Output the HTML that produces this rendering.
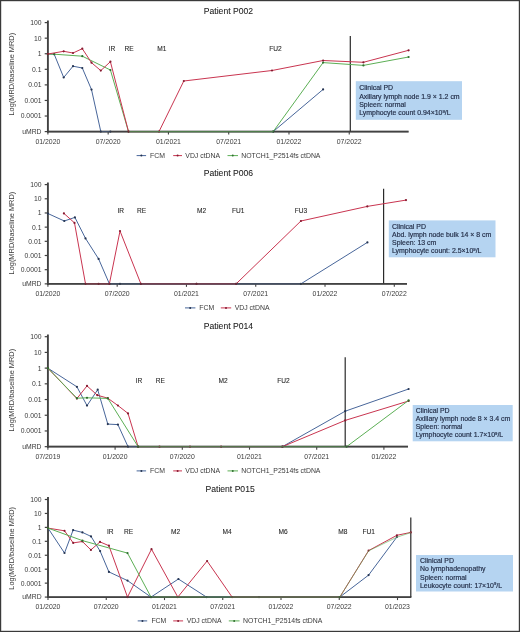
<!DOCTYPE html>
<html><head><meta charset="utf-8"><style>
html,body{margin:0;padding:0;background:#fff;}
body{width:520px;height:632px;overflow:hidden;position:relative;}
svg{position:absolute;left:0;top:0;display:block;will-change:transform;}
text{font-family:"Liberation Sans",sans-serif;}
</style></head><body>
<svg width="520" height="632" viewBox="0 0 520 632" font-family="Liberation Sans, sans-serif">
<rect x="0" y="0" width="520" height="632" fill="#fff"/>
<text x="203.80" y="14.30" font-size="8.6" text-anchor="start" fill="#222" stroke="#222" stroke-width="0.07">Patient P002</text>
<text transform="translate(14.1,74.20) rotate(-90)" font-size="7.42" text-anchor="middle" fill="#3a3a3a">Log(MRD/baseline MRD)</text>
<line x1="47.90" y1="20.50" x2="47.90" y2="132.59" stroke="#424242" stroke-width="1.9"/>
<line x1="44.70" y1="22.60" x2="47.90" y2="22.60" stroke="#424242" stroke-width="1.2"/>
<text x="41.50" y="25.00" font-size="6.8" text-anchor="end" fill="#3a3a3a" >100</text>
<line x1="44.70" y1="38.17" x2="47.90" y2="38.17" stroke="#424242" stroke-width="1.2"/>
<text x="41.50" y="40.57" font-size="6.8" text-anchor="end" fill="#3a3a3a" >10</text>
<line x1="44.70" y1="53.74" x2="47.90" y2="53.74" stroke="#424242" stroke-width="1.2"/>
<text x="41.50" y="56.14" font-size="6.8" text-anchor="end" fill="#3a3a3a" >1</text>
<line x1="44.70" y1="69.31" x2="47.90" y2="69.31" stroke="#424242" stroke-width="1.2"/>
<text x="41.50" y="71.71" font-size="6.8" text-anchor="end" fill="#3a3a3a" >0.1</text>
<line x1="44.70" y1="84.88" x2="47.90" y2="84.88" stroke="#424242" stroke-width="1.2"/>
<text x="41.50" y="87.28" font-size="6.8" text-anchor="end" fill="#3a3a3a" >0.01</text>
<line x1="44.70" y1="100.45" x2="47.90" y2="100.45" stroke="#424242" stroke-width="1.2"/>
<text x="41.50" y="102.85" font-size="6.8" text-anchor="end" fill="#3a3a3a" >0.001</text>
<line x1="44.70" y1="116.02" x2="47.90" y2="116.02" stroke="#424242" stroke-width="1.2"/>
<text x="41.50" y="118.42" font-size="6.8" text-anchor="end" fill="#3a3a3a" >0.0001</text>
<line x1="44.70" y1="131.59" x2="47.90" y2="131.59" stroke="#424242" stroke-width="1.2"/>
<text x="41.50" y="133.99" font-size="6.8" text-anchor="end" fill="#3a3a3a" >uMRD</text>
<line x1="47.00" y1="131.59" x2="408.60" y2="131.59" stroke="#424242" stroke-width="1.9"/>
<line x1="47.90" y1="131.59" x2="47.90" y2="134.59" stroke="#424242" stroke-width="1.1"/>
<text x="47.90" y="143.89" font-size="6.9" text-anchor="middle" fill="#3a3a3a" >01/2020</text>
<line x1="108.17" y1="131.59" x2="108.17" y2="134.59" stroke="#424242" stroke-width="1.1"/>
<text x="108.17" y="143.89" font-size="6.9" text-anchor="middle" fill="#3a3a3a" >07/2020</text>
<line x1="168.44" y1="131.59" x2="168.44" y2="134.59" stroke="#424242" stroke-width="1.1"/>
<text x="168.44" y="143.89" font-size="6.9" text-anchor="middle" fill="#3a3a3a" >01/2021</text>
<line x1="228.71" y1="131.59" x2="228.71" y2="134.59" stroke="#424242" stroke-width="1.1"/>
<text x="228.71" y="143.89" font-size="6.9" text-anchor="middle" fill="#3a3a3a" >07/2021</text>
<line x1="288.98" y1="131.59" x2="288.98" y2="134.59" stroke="#424242" stroke-width="1.1"/>
<text x="288.98" y="143.89" font-size="6.9" text-anchor="middle" fill="#3a3a3a" >01/2022</text>
<line x1="349.25" y1="131.59" x2="349.25" y2="134.59" stroke="#424242" stroke-width="1.1"/>
<text x="349.25" y="143.89" font-size="6.9" text-anchor="middle" fill="#3a3a3a" >07/2022</text>
<text x="112.00" y="51.00" font-size="6.6" text-anchor="middle" fill="#2a2a2a" stroke="#2a2a2a" stroke-width="0.1">IR</text>
<text x="129.20" y="51.00" font-size="6.6" text-anchor="middle" fill="#2a2a2a" stroke="#2a2a2a" stroke-width="0.1">RE</text>
<text x="161.80" y="51.00" font-size="6.6" text-anchor="middle" fill="#2a2a2a" stroke="#2a2a2a" stroke-width="0.1">M1</text>
<text x="275.50" y="51.00" font-size="6.6" text-anchor="middle" fill="#2a2a2a" stroke="#2a2a2a" stroke-width="0.1">FU2</text>
<line x1="350.30" y1="36.00" x2="350.30" y2="131.59" stroke="#2a2a2a" stroke-width="1.2"/>
<polyline points="47.90,54.00 54.20,54.20 63.70,77.50 73.00,66.20 82.30,68.00 91.50,89.60 100.80,131.59 110.40,131.59" fill="none" stroke="#48669a" stroke-width="1" stroke-linejoin="round" stroke-opacity="1"/>
<circle cx="47.90" cy="54.00" r="1.1" fill="#243350"/>
<circle cx="54.20" cy="54.20" r="1.1" fill="#243350"/>
<circle cx="63.70" cy="77.50" r="1.1" fill="#243350"/>
<circle cx="73.00" cy="66.20" r="1.1" fill="#243350"/>
<circle cx="82.30" cy="68.00" r="1.1" fill="#243350"/>
<circle cx="91.50" cy="89.60" r="1.1" fill="#243350"/>
<circle cx="100.80" cy="131.59" r="1.1" fill="#243350"/>
<circle cx="110.40" cy="131.59" r="1.1" fill="#243350"/>
<polyline points="273.20,131.59 323.10,89.40" fill="none" stroke="#48669a" stroke-width="1" stroke-linejoin="round" stroke-opacity="1"/>
<circle cx="273.20" cy="131.59" r="1.1" fill="#243350"/>
<circle cx="323.10" cy="89.40" r="1.1" fill="#243350"/>
<polyline points="47.90,54.00 54.20,54.20 82.30,56.20 110.40,70.00 128.50,131.59 273.20,131.59 323.10,62.60 363.40,65.40 408.60,57.00" fill="none" stroke="#5caf55" stroke-width="1" stroke-linejoin="round" stroke-opacity="1"/>
<circle cx="47.90" cy="54.00" r="1.1" fill="#2f6f2f"/>
<circle cx="54.20" cy="54.20" r="1.1" fill="#2f6f2f"/>
<circle cx="82.30" cy="56.20" r="1.1" fill="#2f6f2f"/>
<circle cx="110.40" cy="70.00" r="1.1" fill="#2f6f2f"/>
<circle cx="128.50" cy="131.59" r="1.1" fill="#2f6f2f"/>
<circle cx="273.20" cy="131.59" r="1.1" fill="#2f6f2f"/>
<circle cx="323.10" cy="62.60" r="1.1" fill="#2f6f2f"/>
<circle cx="363.40" cy="65.40" r="1.1" fill="#2f6f2f"/>
<circle cx="408.60" cy="57.00" r="1.1" fill="#2f6f2f"/>
<polyline points="47.90,54.00 63.70,51.30 73.00,53.00 82.30,48.70 91.50,62.70 100.80,70.60 110.40,61.70 128.50,131.59 159.00,131.59 183.80,81.00 272.00,70.50 323.10,60.50 363.40,62.30 408.60,50.30" fill="none" stroke="#c93550" stroke-width="1" stroke-linejoin="round" stroke-opacity="1"/>
<circle cx="47.90" cy="54.00" r="1.1" fill="#861a30"/>
<circle cx="63.70" cy="51.30" r="1.1" fill="#861a30"/>
<circle cx="73.00" cy="53.00" r="1.1" fill="#861a30"/>
<circle cx="82.30" cy="48.70" r="1.1" fill="#861a30"/>
<circle cx="91.50" cy="62.70" r="1.1" fill="#861a30"/>
<circle cx="100.80" cy="70.60" r="1.1" fill="#861a30"/>
<circle cx="110.40" cy="61.70" r="1.1" fill="#861a30"/>
<circle cx="128.50" cy="131.59" r="1.1" fill="#861a30"/>
<circle cx="159.00" cy="131.59" r="1.1" fill="#861a30"/>
<circle cx="183.80" cy="81.00" r="1.1" fill="#861a30"/>
<circle cx="272.00" cy="70.50" r="1.1" fill="#861a30"/>
<circle cx="323.10" cy="60.50" r="1.1" fill="#861a30"/>
<circle cx="363.40" cy="62.30" r="1.1" fill="#861a30"/>
<circle cx="408.60" cy="50.30" r="1.1" fill="#861a30"/>
<polyline points="129.50,131.59 273.20,131.59" fill="none" stroke="#5caf55" stroke-width="1" stroke-linejoin="round" stroke-opacity="0.999"/>
<line x1="47.00" y1="131.59" x2="408.60" y2="131.59" stroke="#424242" stroke-width="1.9" stroke-opacity="0.45"/>
<rect x="355.8" y="81.2" width="106.19999999999999" height="38.599999999999994" fill="#b5d4f1"/>
<text x="359.20" y="90.10" font-size="6.95" text-anchor="start" fill="#25304a" stroke="#25304a" stroke-width="0.18">Clinical PD</text>
<text x="359.20" y="98.70" font-size="6.95" text-anchor="start" fill="#25304a" stroke="#25304a" stroke-width="0.18">Axillary lymph node 1.9 × 1.2 cm</text>
<text x="359.20" y="107.00" font-size="6.95" text-anchor="start" fill="#25304a" stroke="#25304a" stroke-width="0.18">Spleen: normal</text>
<text x="359.20" y="115.20" font-size="6.95" text-anchor="start" fill="#25304a" stroke="#25304a" stroke-width="0.18">Lymphocyte count 0.94×10<tspan font-size="4.2" dy="-2.6">9</tspan><tspan dy="2.6">/L</tspan></text>
<line x1="136.60" y1="155.60" x2="146.10" y2="155.60" stroke="#48669a" stroke-width="1"/>
<circle cx="141.35" cy="155.60" r="1.0" fill="#243350"/>
<text x="150.00" y="158.05" font-size="6.9" text-anchor="start" fill="#3a3a3a" >FCM</text>
<line x1="173.20" y1="155.60" x2="182.00" y2="155.60" stroke="#c93550" stroke-width="1"/>
<circle cx="177.60" cy="155.60" r="1.0" fill="#861a30"/>
<text x="185.30" y="158.05" font-size="6.9" text-anchor="start" fill="#3a3a3a" >VDJ ctDNA</text>
<line x1="227.50" y1="155.60" x2="238.00" y2="155.60" stroke="#5caf55" stroke-width="1"/>
<circle cx="232.75" cy="155.60" r="1.0" fill="#2f6f2f"/>
<text x="241.20" y="158.05" font-size="6.9" text-anchor="start" fill="#3a3a3a" >NOTCH1_P2514fs ctDNA</text>
<text x="203.80" y="176.40" font-size="8.6" text-anchor="start" fill="#222" stroke="#222" stroke-width="0.07">Patient P006</text>
<text transform="translate(14.1,233.10) rotate(-90)" font-size="7.42" text-anchor="middle" fill="#3a3a3a">Log(MRD/baseline MRD)</text>
<line x1="47.90" y1="182.50" x2="47.90" y2="284.86" stroke="#424242" stroke-width="1.9"/>
<line x1="44.70" y1="184.60" x2="47.90" y2="184.60" stroke="#424242" stroke-width="1.2"/>
<text x="41.50" y="187.00" font-size="6.8" text-anchor="end" fill="#3a3a3a" >100</text>
<line x1="44.70" y1="198.78" x2="47.90" y2="198.78" stroke="#424242" stroke-width="1.2"/>
<text x="41.50" y="201.18" font-size="6.8" text-anchor="end" fill="#3a3a3a" >10</text>
<line x1="44.70" y1="212.96" x2="47.90" y2="212.96" stroke="#424242" stroke-width="1.2"/>
<text x="41.50" y="215.36" font-size="6.8" text-anchor="end" fill="#3a3a3a" >1</text>
<line x1="44.70" y1="227.14" x2="47.90" y2="227.14" stroke="#424242" stroke-width="1.2"/>
<text x="41.50" y="229.54" font-size="6.8" text-anchor="end" fill="#3a3a3a" >0.1</text>
<line x1="44.70" y1="241.32" x2="47.90" y2="241.32" stroke="#424242" stroke-width="1.2"/>
<text x="41.50" y="243.72" font-size="6.8" text-anchor="end" fill="#3a3a3a" >0.01</text>
<line x1="44.70" y1="255.50" x2="47.90" y2="255.50" stroke="#424242" stroke-width="1.2"/>
<text x="41.50" y="257.90" font-size="6.8" text-anchor="end" fill="#3a3a3a" >0.001</text>
<line x1="44.70" y1="269.68" x2="47.90" y2="269.68" stroke="#424242" stroke-width="1.2"/>
<text x="41.50" y="272.08" font-size="6.8" text-anchor="end" fill="#3a3a3a" >0.0001</text>
<line x1="44.70" y1="283.86" x2="47.90" y2="283.86" stroke="#424242" stroke-width="1.2"/>
<text x="41.50" y="286.26" font-size="6.8" text-anchor="end" fill="#3a3a3a" >uMRD</text>
<line x1="47.00" y1="283.86" x2="407.00" y2="283.86" stroke="#424242" stroke-width="1.9"/>
<line x1="47.90" y1="283.86" x2="47.90" y2="286.86" stroke="#424242" stroke-width="1.1"/>
<text x="47.90" y="296.16" font-size="6.9" text-anchor="middle" fill="#3a3a3a" >01/2020</text>
<line x1="117.18" y1="283.86" x2="117.18" y2="286.86" stroke="#424242" stroke-width="1.1"/>
<text x="117.18" y="296.16" font-size="6.9" text-anchor="middle" fill="#3a3a3a" >07/2020</text>
<line x1="186.46" y1="283.86" x2="186.46" y2="286.86" stroke="#424242" stroke-width="1.1"/>
<text x="186.46" y="296.16" font-size="6.9" text-anchor="middle" fill="#3a3a3a" >01/2021</text>
<line x1="255.74" y1="283.86" x2="255.74" y2="286.86" stroke="#424242" stroke-width="1.1"/>
<text x="255.74" y="296.16" font-size="6.9" text-anchor="middle" fill="#3a3a3a" >07/2021</text>
<line x1="325.02" y1="283.86" x2="325.02" y2="286.86" stroke="#424242" stroke-width="1.1"/>
<text x="325.02" y="296.16" font-size="6.9" text-anchor="middle" fill="#3a3a3a" >01/2022</text>
<line x1="394.30" y1="283.86" x2="394.30" y2="286.86" stroke="#424242" stroke-width="1.1"/>
<text x="394.30" y="296.16" font-size="6.9" text-anchor="middle" fill="#3a3a3a" >07/2022</text>
<text x="120.70" y="213.00" font-size="6.6" text-anchor="middle" fill="#2a2a2a" stroke="#2a2a2a" stroke-width="0.1">IR</text>
<text x="141.70" y="213.00" font-size="6.6" text-anchor="middle" fill="#2a2a2a" stroke="#2a2a2a" stroke-width="0.1">RE</text>
<text x="201.50" y="213.00" font-size="6.6" text-anchor="middle" fill="#2a2a2a" stroke="#2a2a2a" stroke-width="0.1">M2</text>
<text x="238.20" y="213.00" font-size="6.6" text-anchor="middle" fill="#2a2a2a" stroke="#2a2a2a" stroke-width="0.1">FU1</text>
<text x="301.00" y="213.00" font-size="6.6" text-anchor="middle" fill="#2a2a2a" stroke="#2a2a2a" stroke-width="0.1">FU3</text>
<line x1="383.60" y1="188.70" x2="383.60" y2="283.86" stroke="#2a2a2a" stroke-width="1.2"/>
<polyline points="47.90,213.50 64.30,221.00 74.90,217.40 85.50,238.40 98.60,258.90 109.40,283.86 120.00,283.86 140.90,283.86 196.50,283.86 236.10,283.86 300.90,283.86 367.40,242.40" fill="none" stroke="#48669a" stroke-width="1" stroke-linejoin="round" stroke-opacity="1"/>
<circle cx="47.90" cy="213.50" r="1.1" fill="#243350"/>
<circle cx="64.30" cy="221.00" r="1.1" fill="#243350"/>
<circle cx="74.90" cy="217.40" r="1.1" fill="#243350"/>
<circle cx="85.50" cy="238.40" r="1.1" fill="#243350"/>
<circle cx="98.60" cy="258.90" r="1.1" fill="#243350"/>
<circle cx="109.40" cy="283.86" r="1.1" fill="#243350"/>
<circle cx="120.00" cy="283.86" r="1.1" fill="#243350"/>
<circle cx="140.90" cy="283.86" r="1.1" fill="#243350"/>
<circle cx="196.50" cy="283.86" r="1.1" fill="#243350"/>
<circle cx="236.10" cy="283.86" r="1.1" fill="#243350"/>
<circle cx="300.90" cy="283.86" r="1.1" fill="#243350"/>
<circle cx="367.40" cy="242.40" r="1.1" fill="#243350"/>
<polyline points="63.90,213.40 74.50,222.90 85.50,283.86 98.60,283.86 109.40,283.86 120.00,231.00 140.90,283.86 196.50,283.86 236.10,283.86 300.90,221.00 367.30,206.40 406.00,200.10" fill="none" stroke="#c93550" stroke-width="1" stroke-linejoin="round" stroke-opacity="1"/>
<circle cx="63.90" cy="213.40" r="1.1" fill="#861a30"/>
<circle cx="74.50" cy="222.90" r="1.1" fill="#861a30"/>
<circle cx="85.50" cy="283.86" r="1.1" fill="#861a30"/>
<circle cx="98.60" cy="283.86" r="1.1" fill="#861a30"/>
<circle cx="109.40" cy="283.86" r="1.1" fill="#861a30"/>
<circle cx="120.00" cy="231.00" r="1.1" fill="#861a30"/>
<circle cx="140.90" cy="283.86" r="1.1" fill="#861a30"/>
<circle cx="196.50" cy="283.86" r="1.1" fill="#861a30"/>
<circle cx="236.10" cy="283.86" r="1.1" fill="#861a30"/>
<circle cx="300.90" cy="221.00" r="1.1" fill="#861a30"/>
<circle cx="367.30" cy="206.40" r="1.1" fill="#861a30"/>
<circle cx="406.00" cy="200.10" r="1.1" fill="#861a30"/>
<line x1="47.00" y1="283.86" x2="407.00" y2="283.86" stroke="#424242" stroke-width="1.9" stroke-opacity="0.45"/>
<rect x="388.8" y="220.4" width="106.69999999999999" height="36.900000000000006" fill="#b5d4f1"/>
<text x="392.00" y="228.60" font-size="6.95" text-anchor="start" fill="#25304a" stroke="#25304a" stroke-width="0.18">Clinical PD</text>
<text x="392.00" y="236.50" font-size="6.95" text-anchor="start" fill="#25304a" stroke="#25304a" stroke-width="0.18">Abd. lymph node bulk 14 × 8 cm</text>
<text x="392.00" y="244.80" font-size="6.95" text-anchor="start" fill="#25304a" stroke="#25304a" stroke-width="0.18">Spleen: 13 cm</text>
<text x="392.00" y="253.30" font-size="6.95" text-anchor="start" fill="#25304a" stroke="#25304a" stroke-width="0.18">Lymphocyte count: 2.5×10<tspan font-size="4.2" dy="-2.6">9</tspan><tspan dy="2.6">/L</tspan></text>
<line x1="185.00" y1="307.90" x2="195.40" y2="307.90" stroke="#48669a" stroke-width="1"/>
<circle cx="190.20" cy="307.90" r="1.0" fill="#243350"/>
<text x="199.30" y="310.35" font-size="6.9" text-anchor="start" fill="#3a3a3a" >FCM</text>
<line x1="220.80" y1="307.90" x2="231.20" y2="307.90" stroke="#c93550" stroke-width="1"/>
<circle cx="226.00" cy="307.90" r="1.0" fill="#861a30"/>
<text x="234.70" y="310.35" font-size="6.9" text-anchor="start" fill="#3a3a3a" >VDJ ctDNA</text>
<text x="203.80" y="328.60" font-size="8.6" text-anchor="start" fill="#222" stroke="#222" stroke-width="0.07">Patient P014</text>
<text transform="translate(14.1,390.20) rotate(-90)" font-size="7.42" text-anchor="middle" fill="#3a3a3a">Log(MRD/baseline MRD)</text>
<line x1="47.90" y1="334.50" x2="47.90" y2="447.67" stroke="#424242" stroke-width="1.9"/>
<line x1="44.70" y1="336.70" x2="47.90" y2="336.70" stroke="#424242" stroke-width="1.2"/>
<text x="41.50" y="339.10" font-size="6.8" text-anchor="end" fill="#3a3a3a" >100</text>
<line x1="44.70" y1="352.41" x2="47.90" y2="352.41" stroke="#424242" stroke-width="1.2"/>
<text x="41.50" y="354.81" font-size="6.8" text-anchor="end" fill="#3a3a3a" >10</text>
<line x1="44.70" y1="368.12" x2="47.90" y2="368.12" stroke="#424242" stroke-width="1.2"/>
<text x="41.50" y="370.52" font-size="6.8" text-anchor="end" fill="#3a3a3a" >1</text>
<line x1="44.70" y1="383.83" x2="47.90" y2="383.83" stroke="#424242" stroke-width="1.2"/>
<text x="41.50" y="386.23" font-size="6.8" text-anchor="end" fill="#3a3a3a" >0.1</text>
<line x1="44.70" y1="399.54" x2="47.90" y2="399.54" stroke="#424242" stroke-width="1.2"/>
<text x="41.50" y="401.94" font-size="6.8" text-anchor="end" fill="#3a3a3a" >0.01</text>
<line x1="44.70" y1="415.25" x2="47.90" y2="415.25" stroke="#424242" stroke-width="1.2"/>
<text x="41.50" y="417.65" font-size="6.8" text-anchor="end" fill="#3a3a3a" >0.001</text>
<line x1="44.70" y1="430.96" x2="47.90" y2="430.96" stroke="#424242" stroke-width="1.2"/>
<text x="41.50" y="433.36" font-size="6.8" text-anchor="end" fill="#3a3a3a" >0.0001</text>
<line x1="44.70" y1="446.67" x2="47.90" y2="446.67" stroke="#424242" stroke-width="1.2"/>
<text x="41.50" y="449.07" font-size="6.8" text-anchor="end" fill="#3a3a3a" >uMRD</text>
<line x1="47.00" y1="446.67" x2="408.00" y2="446.67" stroke="#424242" stroke-width="1.9"/>
<line x1="47.90" y1="446.67" x2="47.90" y2="449.67" stroke="#424242" stroke-width="1.1"/>
<text x="47.90" y="458.97" font-size="6.9" text-anchor="middle" fill="#3a3a3a" >07/2019</text>
<line x1="115.10" y1="446.67" x2="115.10" y2="449.67" stroke="#424242" stroke-width="1.1"/>
<text x="115.10" y="458.97" font-size="6.9" text-anchor="middle" fill="#3a3a3a" >01/2020</text>
<line x1="182.30" y1="446.67" x2="182.30" y2="449.67" stroke="#424242" stroke-width="1.1"/>
<text x="182.30" y="458.97" font-size="6.9" text-anchor="middle" fill="#3a3a3a" >07/2020</text>
<line x1="249.50" y1="446.67" x2="249.50" y2="449.67" stroke="#424242" stroke-width="1.1"/>
<text x="249.50" y="458.97" font-size="6.9" text-anchor="middle" fill="#3a3a3a" >01/2021</text>
<line x1="316.70" y1="446.67" x2="316.70" y2="449.67" stroke="#424242" stroke-width="1.1"/>
<text x="316.70" y="458.97" font-size="6.9" text-anchor="middle" fill="#3a3a3a" >07/2021</text>
<line x1="383.90" y1="446.67" x2="383.90" y2="449.67" stroke="#424242" stroke-width="1.1"/>
<text x="383.90" y="458.97" font-size="6.9" text-anchor="middle" fill="#3a3a3a" >01/2022</text>
<text x="139.00" y="383.00" font-size="6.6" text-anchor="middle" fill="#2a2a2a" stroke="#2a2a2a" stroke-width="0.1">IR</text>
<text x="160.40" y="383.00" font-size="6.6" text-anchor="middle" fill="#2a2a2a" stroke="#2a2a2a" stroke-width="0.1">RE</text>
<text x="223.20" y="383.00" font-size="6.6" text-anchor="middle" fill="#2a2a2a" stroke="#2a2a2a" stroke-width="0.1">M2</text>
<text x="283.50" y="383.00" font-size="6.6" text-anchor="middle" fill="#2a2a2a" stroke="#2a2a2a" stroke-width="0.1">FU2</text>
<line x1="345.20" y1="357.30" x2="345.20" y2="446.67" stroke="#2a2a2a" stroke-width="1.2"/>
<polyline points="47.90,368.20 76.90,386.80 87.00,405.60 97.70,389.70 107.80,424.10 117.90,424.60 128.00,446.67 282.40,446.67 345.20,411.20 408.60,389.00" fill="none" stroke="#48669a" stroke-width="1" stroke-linejoin="round" stroke-opacity="1"/>
<circle cx="47.90" cy="368.20" r="1.1" fill="#243350"/>
<circle cx="76.90" cy="386.80" r="1.1" fill="#243350"/>
<circle cx="87.00" cy="405.60" r="1.1" fill="#243350"/>
<circle cx="97.70" cy="389.70" r="1.1" fill="#243350"/>
<circle cx="107.80" cy="424.10" r="1.1" fill="#243350"/>
<circle cx="117.90" cy="424.60" r="1.1" fill="#243350"/>
<circle cx="128.00" cy="446.67" r="1.1" fill="#243350"/>
<circle cx="282.40" cy="446.67" r="1.1" fill="#243350"/>
<circle cx="345.20" cy="411.20" r="1.1" fill="#243350"/>
<circle cx="408.60" cy="389.00" r="1.1" fill="#243350"/>
<polyline points="47.90,368.20 76.90,398.60 87.00,385.90 97.30,395.20 107.80,398.20 117.90,405.50 128.00,413.40 138.10,446.67 159.50,446.67 190.00,446.67 221.10,446.67 282.40,446.67 345.20,420.40 408.60,401.00" fill="none" stroke="#c93550" stroke-width="1" stroke-linejoin="round" stroke-opacity="1"/>
<circle cx="47.90" cy="368.20" r="1.1" fill="#861a30"/>
<circle cx="76.90" cy="398.60" r="1.1" fill="#861a30"/>
<circle cx="87.00" cy="385.90" r="1.1" fill="#861a30"/>
<circle cx="97.30" cy="395.20" r="1.1" fill="#861a30"/>
<circle cx="107.80" cy="398.20" r="1.1" fill="#861a30"/>
<circle cx="117.90" cy="405.50" r="1.1" fill="#861a30"/>
<circle cx="128.00" cy="413.40" r="1.1" fill="#861a30"/>
<circle cx="138.10" cy="446.67" r="1.1" fill="#861a30"/>
<circle cx="159.50" cy="446.67" r="1.1" fill="#861a30"/>
<circle cx="190.00" cy="446.67" r="1.1" fill="#861a30"/>
<circle cx="221.10" cy="446.67" r="1.1" fill="#861a30"/>
<circle cx="282.40" cy="446.67" r="1.1" fill="#861a30"/>
<circle cx="345.20" cy="420.40" r="1.1" fill="#861a30"/>
<circle cx="408.60" cy="401.00" r="1.1" fill="#861a30"/>
<polyline points="47.90,368.20 76.90,398.20 87.00,397.80 107.80,398.40 138.10,446.67 346.60,446.67 408.60,400.40" fill="none" stroke="#5caf55" stroke-width="1" stroke-linejoin="round" stroke-opacity="1"/>
<circle cx="47.90" cy="368.20" r="1.1" fill="#2f6f2f"/>
<circle cx="76.90" cy="398.20" r="1.1" fill="#2f6f2f"/>
<circle cx="87.00" cy="397.80" r="1.1" fill="#2f6f2f"/>
<circle cx="107.80" cy="398.40" r="1.1" fill="#2f6f2f"/>
<circle cx="138.10" cy="446.67" r="1.1" fill="#2f6f2f"/>
<circle cx="346.60" cy="446.67" r="1.1" fill="#2f6f2f"/>
<circle cx="408.60" cy="400.40" r="1.1" fill="#2f6f2f"/>
<line x1="47.00" y1="446.67" x2="408.00" y2="446.67" stroke="#424242" stroke-width="1.9" stroke-opacity="0.45"/>
<rect x="412.7" y="405" width="100.00000000000006" height="36.30000000000001" fill="#b5d4f1"/>
<text x="415.70" y="412.90" font-size="6.95" text-anchor="start" fill="#25304a" stroke="#25304a" stroke-width="0.18">Clinical PD</text>
<text x="415.70" y="421.10" font-size="6.95" text-anchor="start" fill="#25304a" stroke="#25304a" stroke-width="0.18">Axillary lymph node 8 × 3.4 cm</text>
<text x="415.70" y="429.00" font-size="6.95" text-anchor="start" fill="#25304a" stroke="#25304a" stroke-width="0.18">Spleen: normal</text>
<text x="415.70" y="437.20" font-size="6.95" text-anchor="start" fill="#25304a" stroke="#25304a" stroke-width="0.18">Lymphocyte count 1.7×10<tspan font-size="4.2" dy="-2.6">9</tspan><tspan dy="2.6">/L</tspan></text>
<line x1="136.60" y1="470.90" x2="146.10" y2="470.90" stroke="#48669a" stroke-width="1"/>
<circle cx="141.35" cy="470.90" r="1.0" fill="#243350"/>
<text x="150.00" y="473.35" font-size="6.9" text-anchor="start" fill="#3a3a3a" >FCM</text>
<line x1="173.20" y1="470.90" x2="182.00" y2="470.90" stroke="#c93550" stroke-width="1"/>
<circle cx="177.60" cy="470.90" r="1.0" fill="#861a30"/>
<text x="185.30" y="473.35" font-size="6.9" text-anchor="start" fill="#3a3a3a" >VDJ ctDNA</text>
<line x1="227.50" y1="470.90" x2="238.00" y2="470.90" stroke="#5caf55" stroke-width="1"/>
<circle cx="232.75" cy="470.90" r="1.0" fill="#2f6f2f"/>
<text x="241.20" y="473.35" font-size="6.9" text-anchor="start" fill="#3a3a3a" >NOTCH1_P2514fs ctDNA</text>
<text x="205.50" y="491.80" font-size="8.6" text-anchor="start" fill="#222" stroke="#222" stroke-width="0.07">Patient P015</text>
<text transform="translate(14.1,548.30) rotate(-90)" font-size="7.42" text-anchor="middle" fill="#3a3a3a">Log(MRD/baseline MRD)</text>
<line x1="48.00" y1="497.00" x2="48.00" y2="598.08" stroke="#424242" stroke-width="1.9"/>
<line x1="44.80" y1="499.50" x2="48.00" y2="499.50" stroke="#424242" stroke-width="1.2"/>
<text x="41.60" y="501.90" font-size="6.8" text-anchor="end" fill="#3a3a3a" >100</text>
<line x1="44.80" y1="513.44" x2="48.00" y2="513.44" stroke="#424242" stroke-width="1.2"/>
<text x="41.60" y="515.84" font-size="6.8" text-anchor="end" fill="#3a3a3a" >10</text>
<line x1="44.80" y1="527.38" x2="48.00" y2="527.38" stroke="#424242" stroke-width="1.2"/>
<text x="41.60" y="529.78" font-size="6.8" text-anchor="end" fill="#3a3a3a" >1</text>
<line x1="44.80" y1="541.32" x2="48.00" y2="541.32" stroke="#424242" stroke-width="1.2"/>
<text x="41.60" y="543.72" font-size="6.8" text-anchor="end" fill="#3a3a3a" >0.1</text>
<line x1="44.80" y1="555.26" x2="48.00" y2="555.26" stroke="#424242" stroke-width="1.2"/>
<text x="41.60" y="557.66" font-size="6.8" text-anchor="end" fill="#3a3a3a" >0.01</text>
<line x1="44.80" y1="569.20" x2="48.00" y2="569.20" stroke="#424242" stroke-width="1.2"/>
<text x="41.60" y="571.60" font-size="6.8" text-anchor="end" fill="#3a3a3a" >0.001</text>
<line x1="44.80" y1="583.14" x2="48.00" y2="583.14" stroke="#424242" stroke-width="1.2"/>
<text x="41.60" y="585.54" font-size="6.8" text-anchor="end" fill="#3a3a3a" >0.0001</text>
<line x1="44.80" y1="597.08" x2="48.00" y2="597.08" stroke="#424242" stroke-width="1.2"/>
<text x="41.60" y="599.48" font-size="6.8" text-anchor="end" fill="#3a3a3a" >uMRD</text>
<line x1="47.10" y1="597.08" x2="411.30" y2="597.08" stroke="#424242" stroke-width="1.9"/>
<line x1="48.00" y1="597.08" x2="48.00" y2="600.08" stroke="#424242" stroke-width="1.1"/>
<text x="48.00" y="609.38" font-size="6.9" text-anchor="middle" fill="#3a3a3a" >01/2020</text>
<line x1="106.25" y1="597.08" x2="106.25" y2="600.08" stroke="#424242" stroke-width="1.1"/>
<text x="106.25" y="609.38" font-size="6.9" text-anchor="middle" fill="#3a3a3a" >07/2020</text>
<line x1="164.50" y1="597.08" x2="164.50" y2="600.08" stroke="#424242" stroke-width="1.1"/>
<text x="164.50" y="609.38" font-size="6.9" text-anchor="middle" fill="#3a3a3a" >01/2021</text>
<line x1="222.75" y1="597.08" x2="222.75" y2="600.08" stroke="#424242" stroke-width="1.1"/>
<text x="222.75" y="609.38" font-size="6.9" text-anchor="middle" fill="#3a3a3a" >07/2021</text>
<line x1="281.00" y1="597.08" x2="281.00" y2="600.08" stroke="#424242" stroke-width="1.1"/>
<text x="281.00" y="609.38" font-size="6.9" text-anchor="middle" fill="#3a3a3a" >01/2022</text>
<line x1="339.25" y1="597.08" x2="339.25" y2="600.08" stroke="#424242" stroke-width="1.1"/>
<text x="339.25" y="609.38" font-size="6.9" text-anchor="middle" fill="#3a3a3a" >07/2022</text>
<line x1="397.50" y1="597.08" x2="397.50" y2="600.08" stroke="#424242" stroke-width="1.1"/>
<text x="397.50" y="609.38" font-size="6.9" text-anchor="middle" fill="#3a3a3a" >01/2023</text>
<text x="110.30" y="534.10" font-size="6.6" text-anchor="middle" fill="#2a2a2a" stroke="#2a2a2a" stroke-width="0.1">IR</text>
<text x="128.50" y="534.10" font-size="6.6" text-anchor="middle" fill="#2a2a2a" stroke="#2a2a2a" stroke-width="0.1">RE</text>
<text x="175.70" y="534.10" font-size="6.6" text-anchor="middle" fill="#2a2a2a" stroke="#2a2a2a" stroke-width="0.1">M2</text>
<text x="227.10" y="534.10" font-size="6.6" text-anchor="middle" fill="#2a2a2a" stroke="#2a2a2a" stroke-width="0.1">M4</text>
<text x="283.00" y="534.10" font-size="6.6" text-anchor="middle" fill="#2a2a2a" stroke="#2a2a2a" stroke-width="0.1">M6</text>
<text x="342.90" y="534.10" font-size="6.6" text-anchor="middle" fill="#2a2a2a" stroke="#2a2a2a" stroke-width="0.1">M8</text>
<text x="368.70" y="534.10" font-size="6.6" text-anchor="middle" fill="#2a2a2a" stroke="#2a2a2a" stroke-width="0.1">FU1</text>
<line x1="410.80" y1="517.40" x2="410.80" y2="597.08" stroke="#2a2a2a" stroke-width="1.2"/>
<polyline points="48.00,528.10 64.50,553.00 73.10,530.10 82.40,532.40 91.00,536.40 100.10,551.10 108.90,571.90 127.50,580.60 151.00,597.08 178.40,579.00 206.50,597.08 259.00,597.08 339.80,597.08 368.60,575.10 396.90,537.00" fill="none" stroke="#48669a" stroke-width="1" stroke-linejoin="round" stroke-opacity="1"/>
<circle cx="48.00" cy="528.10" r="1.1" fill="#243350"/>
<circle cx="64.50" cy="553.00" r="1.1" fill="#243350"/>
<circle cx="73.10" cy="530.10" r="1.1" fill="#243350"/>
<circle cx="82.40" cy="532.40" r="1.1" fill="#243350"/>
<circle cx="91.00" cy="536.40" r="1.1" fill="#243350"/>
<circle cx="100.10" cy="551.10" r="1.1" fill="#243350"/>
<circle cx="108.90" cy="571.90" r="1.1" fill="#243350"/>
<circle cx="127.50" cy="580.60" r="1.1" fill="#243350"/>
<circle cx="151.00" cy="597.08" r="1.1" fill="#243350"/>
<circle cx="178.40" cy="579.00" r="1.1" fill="#243350"/>
<circle cx="206.50" cy="597.08" r="1.1" fill="#243350"/>
<circle cx="259.00" cy="597.08" r="1.1" fill="#243350"/>
<circle cx="339.80" cy="597.08" r="1.1" fill="#243350"/>
<circle cx="368.60" cy="575.10" r="1.1" fill="#243350"/>
<circle cx="396.90" cy="537.00" r="1.1" fill="#243350"/>
<polyline points="48.00,528.10 64.50,530.80 73.20,542.90 82.40,541.50 90.90,549.90 100.00,541.90 108.90,545.70 127.50,597.08 151.50,549.20 177.80,597.08 207.10,561.00 232.10,597.08 339.80,597.08 368.60,550.60 396.90,535.30 410.80,532.40" fill="none" stroke="#c93550" stroke-width="1" stroke-linejoin="round" stroke-opacity="1"/>
<circle cx="48.00" cy="528.10" r="1.1" fill="#861a30"/>
<circle cx="64.50" cy="530.80" r="1.1" fill="#861a30"/>
<circle cx="73.20" cy="542.90" r="1.1" fill="#861a30"/>
<circle cx="82.40" cy="541.50" r="1.1" fill="#861a30"/>
<circle cx="90.90" cy="549.90" r="1.1" fill="#861a30"/>
<circle cx="100.00" cy="541.90" r="1.1" fill="#861a30"/>
<circle cx="108.90" cy="545.70" r="1.1" fill="#861a30"/>
<circle cx="127.50" cy="597.08" r="1.1" fill="#861a30"/>
<circle cx="151.50" cy="549.20" r="1.1" fill="#861a30"/>
<circle cx="177.80" cy="597.08" r="1.1" fill="#861a30"/>
<circle cx="207.10" cy="561.00" r="1.1" fill="#861a30"/>
<circle cx="232.10" cy="597.08" r="1.1" fill="#861a30"/>
<circle cx="339.80" cy="597.08" r="1.1" fill="#861a30"/>
<circle cx="368.60" cy="550.60" r="1.1" fill="#861a30"/>
<circle cx="396.90" cy="535.30" r="1.1" fill="#861a30"/>
<circle cx="410.80" cy="532.40" r="1.1" fill="#861a30"/>
<polyline points="48.00,528.10 82.40,540.60 127.50,553.10 151.00,597.08 339.80,597.08" fill="none" stroke="#5caf55" stroke-width="1" stroke-linejoin="round" stroke-opacity="1"/>
<circle cx="48.00" cy="528.10" r="1.1" fill="#2f6f2f"/>
<circle cx="82.40" cy="540.60" r="1.1" fill="#2f6f2f"/>
<circle cx="127.50" cy="553.10" r="1.1" fill="#2f6f2f"/>
<circle cx="151.00" cy="597.08" r="1.1" fill="#2f6f2f"/>
<circle cx="339.80" cy="597.08" r="1.1" fill="#2f6f2f"/>
<polyline points="339.80,597.08 368.60,550.90 396.90,537.20 410.80,532.60" fill="none" stroke="#5caf55" stroke-width="1" stroke-linejoin="round" stroke-opacity="0.6"/>
<line x1="47.10" y1="597.08" x2="411.30" y2="597.08" stroke="#424242" stroke-width="1.9" stroke-opacity="0.45"/>
<rect x="416" y="555" width="97" height="36.5" fill="#b5d4f1"/>
<text x="420.00" y="563.40" font-size="6.95" text-anchor="start" fill="#25304a" stroke="#25304a" stroke-width="0.18">Clinical PD</text>
<text x="420.00" y="571.40" font-size="6.95" text-anchor="start" fill="#25304a" stroke="#25304a" stroke-width="0.18">No lymphadenopathy</text>
<text x="420.00" y="579.60" font-size="6.95" text-anchor="start" fill="#25304a" stroke="#25304a" stroke-width="0.18">Spleen: normal</text>
<text x="420.00" y="587.90" font-size="6.95" text-anchor="start" fill="#25304a" stroke="#25304a" stroke-width="0.18">Leukocyte count: 17×10<tspan font-size="4.2" dy="-2.6">9</tspan><tspan dy="2.6">/L</tspan></text>
<line x1="137.70" y1="620.90" x2="147.20" y2="620.90" stroke="#48669a" stroke-width="1"/>
<circle cx="142.45" cy="620.90" r="1.0" fill="#243350"/>
<text x="151.40" y="623.35" font-size="6.9" text-anchor="start" fill="#3a3a3a" >FCM</text>
<line x1="173.20" y1="620.90" x2="183.10" y2="620.90" stroke="#c93550" stroke-width="1"/>
<circle cx="178.15" cy="620.90" r="1.0" fill="#861a30"/>
<text x="186.70" y="623.35" font-size="6.9" text-anchor="start" fill="#3a3a3a" >VDJ ctDNA</text>
<line x1="228.80" y1="620.90" x2="239.60" y2="620.90" stroke="#5caf55" stroke-width="1"/>
<circle cx="234.20" cy="620.90" r="1.0" fill="#2f6f2f"/>
<text x="243.10" y="623.35" font-size="6.9" text-anchor="start" fill="#3a3a3a" >NOTCH1_P2514fs ctDNA</text>
<rect x="0.6" y="0.6" width="518.8" height="630.8" fill="none" stroke="#3a3a3a" stroke-width="1.2"/>
</svg>
</body></html>
